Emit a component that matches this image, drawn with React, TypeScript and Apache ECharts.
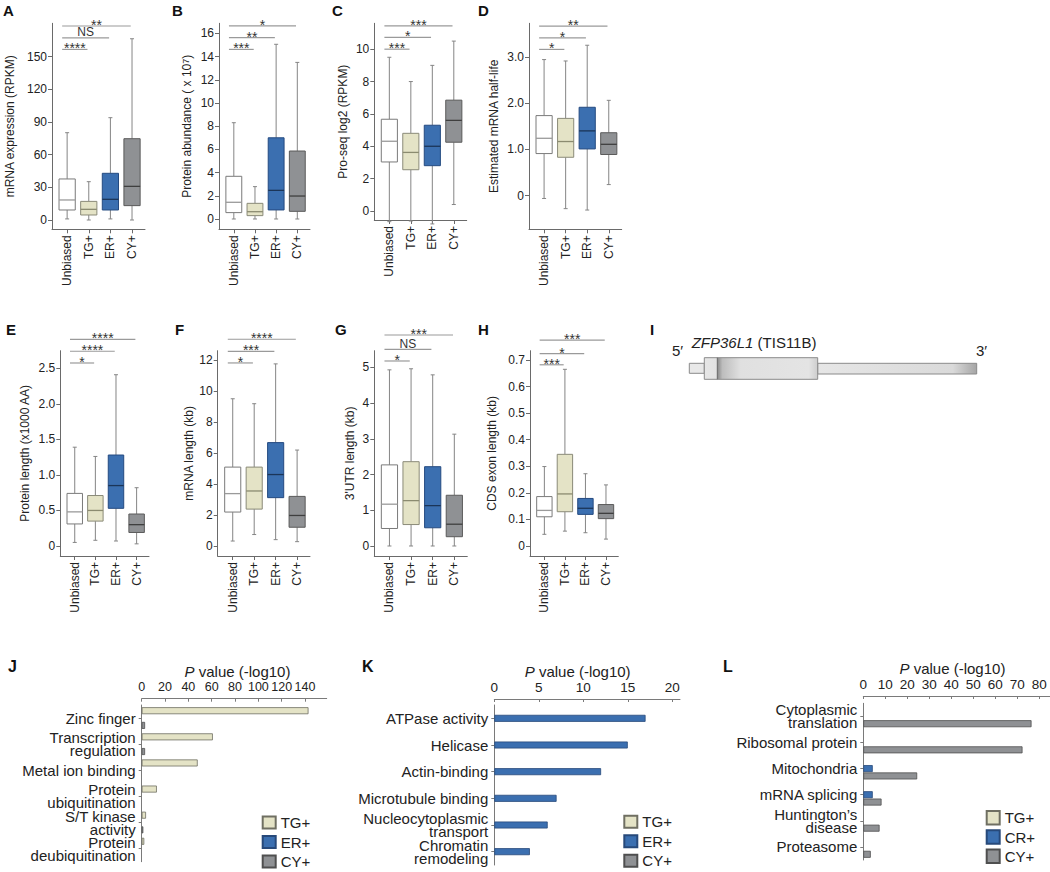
import React, { useEffect, useRef } from "react";
import * as echarts from "echarts";

const FONT = '"Liberation Sans", Arial, Helvetica, sans-serif';
const TEXT = "#222";
const AXIS = "#6a6a6a";

const boxCategories = ["Unbiased", "TG+", "ER+", "CY+"];

// [min, Q1, median, Q3, max] for Unbiased, TG+, ER+, CY+
const mrnaExpression = [[1, 9.2, 18.4, 37.7, 80.2], [0, 4.6, 9.8, 17.1, 35.2], [1, 9.2, 19, 42.9, 94], [0, 13.2, 30.9, 74.7, 166.5]];
const proteinAbundance = [[0, 0.55, 1.44, 3.68, 8.3], [0, 0.29, 0.63, 1.35, 2.79], [0, 0.78, 2.47, 7.0, 15.06], [0, 0.66, 1.98, 5.86, 13.5]];
const proSeq = [[-0.66, 3.03, 4.31, 5.67, 9.5], [-0.62, 2.55, 3.62, 4.8, 8.0], [-0.8, 2.8, 4.0, 5.3, 9.0], [0.4, 4.25, 5.6, 6.85, 10.5]];
const halfLife = [[-0.06, 0.91, 1.24, 1.73, 2.94], [-0.28, 0.83, 1.17, 1.67, 2.91], [-0.31, 1.01, 1.4, 1.91, 3.25], [0.24, 0.89, 1.11, 1.36, 2.06]];
const proteinLength = [[0.05, 0.31, 0.48, 0.74, 1.39], [0.08, 0.35, 0.5, 0.71, 1.26], [0.07, 0.53, 0.85, 1.28, 2.41], [0.03, 0.19, 0.3, 0.45, 0.82]];
const mrnaLength = [[0.32, 2.19, 3.38, 5.09, 9.5], [0.74, 2.38, 3.55, 5.09, 9.18], [0.41, 3.12, 4.61, 6.67, 11.75], [0.28, 1.21, 1.97, 3.2, 6.19]];
const utrLength = [[0, 0.49, 1.17, 2.27, 4.93], [0, 0.6, 1.27, 2.36, 4.96], [0, 0.51, 1.13, 2.22, 4.79], [0, 0.26, 0.61, 1.42, 3.13]];
const cdsExonLength = [[0.044, 0.11, 0.134, 0.186, 0.299], [0.056, 0.129, 0.196, 0.345, 0.665], [0.05, 0.119, 0.142, 0.179, 0.272], [0.026, 0.103, 0.123, 0.156, 0.23]];

// significance brackets: [end group index, level, label] (all start at Unbiased)
const sigA: [number, number, string][] = [[1, 156.7, "****"], [2, 167.4, "NS"], [3, 178.2, "**"]];
const sigB: [number, number, string][] = [[1, 14.62, "***"], [2, 15.63, "**"], [3, 16.64, "*"]];
const sigC: [number, number, string][] = [[1, 10.0, "***"], [2, 10.73, "*"], [3, 11.44, "***"]];
const sigD: [number, number, string][] = [[1, 3.16, "*"], [2, 3.41, "*"], [3, 3.665, "**"]];
const sigE: [number, number, string][] = [[1, 2.575, "*"], [2, 2.74, "****"], [3, 2.908, "****"]];
const sigF: [number, number, string][] = [[1, 11.81, "*"], [2, 12.56, "***"], [3, 13.34, "****"]];
const sigG: [number, number, string][] = [[1, 5.178, "*"], [2, 5.505, "NS"], [3, 5.905, "***"]];
const sigH: [number, number, string][] = [[1, 0.682, "***"], [2, 0.724, "*"], [3, 0.775, "***"]];

// tick values and labels
const mrnaExpressionTicks = [0, 30, 60, 90, 120, 150];
const proteinAbundanceTicks = [0, 2, 4, 6, 8, 10, 12, 14, 16];
const proSeqTicks = [0, 2, 4, 6, 8, 10];
const halfLifeTicks = [0, 1, 2, 3];
const halfLifeTickLabels = ["0", "1.0", "2.0", "3.0"];
const proteinLengthTicks = [0, 0.5, 1, 1.5, 2, 2.5];
const proteinLengthTickLabels = ["0", "0.5", "1.0", "1.5", "2.0", "2.5"];
const mrnaLengthTicks = [0, 2, 4, 6, 8, 10, 12];
const utrTicks = [0, 1, 2, 3, 4, 5];
const cdsTicks = [0, 0.1, 0.2, 0.3, 0.4, 0.5, 0.6, 0.7];
const cdsTickLabels = ["0", "0.1", "0.2", "0.3", "0.4", "0.5", "0.6", "0.7"];

// enrichment bars
const jCategories = ["Zinc finger", "Transcription\nregulation", "Metal ion binding", "Protein\nubiquitination", "S/T kinase\nactivity", "Protein\ndeubiquitination"];
const jTG = [143, 61, 48, 13, 3.7, 2.2];
const jER = [null, null, null, null, null, null];
const jCY = [2.9, 2.9, null, null, 1.4, null];
const jTicks = [0, 20, 40, 60, 80, 100, 120, 140];

const kCategories = ["ATPase activity", "Helicase", "Actin-binding", "Microtubule binding", "Nucleocytoplasmic\ntransport", "Chromatin\nremodeling"];
const kER = [17, 15, 12, 7, 6, 4];
const kTicks = [0, 5, 10, 15, 20];

const lCategories = ["Cytoplasmic\ntranslation", "Ribosomal protein", "Mitochondria", "mRNA splicing", "Huntington\u2019s\ndisease", "Proteasome"];
const lTG = [null, null, null, null, null, null];
const lCR = [null, null, 4.3, 4.3, null, null];
const lCY = [76.5, 72.4, 24.5, 8.3, 7.4, 3.4];
const lTicks = [0, 10, 20, 30, 40, 50, 60, 70, 80];

const boxFill = ["#ffffff", "#e4e3c6", "#3b6fb0", "#8f9194"];
const boxStroke = ["#7a7a7a", "#8a8a78", "#244a80", "#5a5a5a"];
const medianColor = ["#9a9a9a", "#8b8b70", "#1b3558", "#3f3f3f"];
const WHISKER = "#858585";

const TG_STYLE = { color: "#e4e3c6", borderColor: "#6f6f62", borderWidth: 0.8 };
const ER_STYLE = { color: "#3b6fb0", borderColor: "#27497a", borderWidth: 0.8 };
const CY_STYLE = { color: "#8f9194", borderColor: "#4f4f4f", borderWidth: 0.8 };

type BoxPanel = {
  data: number[][];
  sig: [number, number, string][];
  ticks: number[];
  labels?: string[];
  title: string;
  rich?: any;
  grid: [number, number, number, number];
  range: [number, number];
  nameGap: number;
};

const boxPanels: BoxPanel[] = [
  { data: mrnaExpression, sig: sigA, ticks: mrnaExpressionTicks, title: "mRNA expression (RPKM)", grid: [52, 23.3, 93, 206], range: [-8.54, 180.7], nameGap: 36 },
  { data: proteinAbundance, sig: sigB, ticks: proteinAbundanceTicks, title: "Protein abundance ( x 10{sup|7})", rich: { sup: { fontSize: 9, verticalAlign: "top", fontFamily: FONT, color: TEXT } }, grid: [219, 23.3, 91, 206], range: [-0.888, 16.87], nameGap: 26 },
  { data: proSeq, sig: sigC, ticks: proSeqTicks, title: "Pro-seq log2 (RPKM)", grid: [374.3, 23.3, 92.4, 196.7], range: [-0.557, 11.6], nameGap: 25 },
  { data: halfLife, sig: sigD, ticks: halfLifeTicks, labels: halfLifeTickLabels, title: "Estimated mRNA half-life", grid: [529, 23.3, 92.7, 206], range: [-0.726, 3.724], nameGap: 29.5 },
  { data: proteinLength, sig: sigE, ticks: proteinLengthTicks, labels: proteinLengthTickLabels, title: "Protein length (x1000 AA)", grid: [60.3, 350.7, 88.7, 205.3], range: [-0.141, 2.748], nameGap: 29 },
  { data: mrnaLength, sig: sigF, ticks: mrnaLengthTicks, title: "mRNA length (kb)", grid: [217.7, 350.7, 92.3, 205.3], range: [-0.645, 12.6], nameGap: 23 },
  { data: utrLength, sig: sigG, ticks: utrTicks, title: "3'UTR length (kb)", grid: [374.3, 350.7, 93, 205.3], range: [-0.28, 5.466], nameGap: 18 },
  { data: cdsExonLength, sig: sigH, ticks: cdsTicks, labels: cdsTickLabels, title: "CDS exon length (kb)", grid: [530, 350.7, 88.3, 205.3], range: [-0.0376, 0.735], nameGap: 32.5 },
];

function renderBox(params: any, api: any) {
  const i = api.value(0);
  const pMin = api.coord([i, api.value(1)]);
  const pQ1 = api.coord([i, api.value(2)]);
  const pMed = api.coord([i, api.value(3)]);
  const pQ3 = api.coord([i, api.value(4)]);
  const pMax = api.coord([i, api.value(5)]);
  const w = api.size([1, 0])[0] * 0.75;
  const x = pMed[0];
  const ws = { stroke: WHISKER, lineWidth: 1 };
  return {
    type: "group",
    children: [
      { type: "line", shape: { x1: x, y1: pMax[1], x2: x, y2: pQ3[1] }, style: ws },
      { type: "line", shape: { x1: x, y1: pQ1[1], x2: x, y2: pMin[1] }, style: ws },
      { type: "line", shape: { x1: x - 2, y1: pMax[1], x2: x + 2, y2: pMax[1] }, style: ws },
      { type: "line", shape: { x1: x - 2, y1: pMin[1], x2: x + 2, y2: pMin[1] }, style: ws },
      { type: "rect", shape: { x: x - w / 2, y: pQ3[1], width: w, height: pQ1[1] - pQ3[1] }, style: { fill: boxFill[i], stroke: boxStroke[i], lineWidth: 1 } },
      { type: "line", shape: { x1: x - w / 2, y1: pMed[1], x2: x + w / 2, y2: pMed[1] }, style: { stroke: medianColor[i], lineWidth: 1.3 } },
    ],
  };
}

function makeBracket(labels: string[]) {
  return (params: any, api: any) => {
    const band = api.size([1, 0])[0];
    const y = api.value(2);
    const a = api.coord([api.value(0), y]);
    const b = api.coord([api.value(1), y]);
    const x1 = a[0] - 0.23 * band;
    const x2 = b[0] - 0.06 * band;
    const label = labels[params.dataIndex];
    const ns = label === "NS";
    return {
      type: "group",
      children: [
        { type: "line", shape: { x1, y1: a[1], x2, y2: a[1] }, style: { stroke: "#9a9a9a", lineWidth: 1.2 } },
        {
          type: "text",
          x: (x1 + x2) / 2,
          y: a[1] - (ns ? 5.5 : 1),
          style: { text: label, fontSize: ns ? 12 : 14, fontFamily: FONT, fill: "#333", align: "center", verticalAlign: "middle" },
        },
      ],
    };
  };
}

function buildOption() {
  const grid: any[] = [];
  const xAxis: any[] = [];
  const yAxis: any[] = [];
  const series: any[] = [];
  const lineStyle = { color: AXIS, width: 1 };

  boxPanels.forEach((p, k) => {
    grid.push({ left: p.grid[0], top: p.grid[1], width: p.grid[2], height: p.grid[3] });
    xAxis.push({
      gridIndex: k, type: "value", min: -0.7, max: 3.6,
      axisLine: { show: true, onZero: false, lineStyle },
      axisTick: { show: true, length: 4, customValues: [0, 1, 2, 3], lineStyle },
      axisLabel: { customValues: [0, 1, 2, 3], rotate: 90, margin: 6, fontSize: 12, color: TEXT, fontFamily: FONT, formatter: (v: number) => boxCategories[Math.round(v)] },
      splitLine: { show: false },
    });
    yAxis.push({
      gridIndex: k, type: "value", min: p.range[0], max: p.range[1],
      axisLine: { show: true, onZero: false, lineStyle },
      axisTick: { show: true, length: 4, customValues: p.ticks, lineStyle },
      axisLabel: {
        customValues: p.ticks, margin: 5, fontSize: 12, color: TEXT, fontFamily: FONT,
        formatter: (v: number) => {
          if (!p.labels) return String(v);
          const idx = p.ticks.findIndex((t) => Math.abs(t - v) < 1e-9);
          return idx >= 0 ? p.labels[idx] : String(v);
        },
      },
      splitLine: { show: false },
      name: p.title, nameLocation: "middle", nameGap: p.nameGap,
      nameTextStyle: { fontSize: 12, color: TEXT, fontFamily: FONT, rich: p.rich || {} },
    });
    series.push({
      type: "custom", xAxisIndex: k, yAxisIndex: k, silent: true, clip: false,
      data: p.data.map((d, i) => [i, ...d]),
      encode: { x: 0, y: [1, 2, 3, 4, 5] },
      renderItem: renderBox,
    });
    series.push({
      type: "custom", xAxisIndex: k, yAxisIndex: k, silent: true, clip: false,
      data: p.sig.map((s) => [0, s[0], s[1]]),
      encode: { x: [0, 1], y: 2 },
      renderItem: makeBracket(p.sig.map((s) => s[2])),
    });
  });

  const barPanels = [
    { cats: jCategories, grid: [141.7, 705, 185, 156.7], max: 158.6, ticks: jTicks, tickFont: 12.5, offset: 6.3, nameGap: 20, namePad: [0, 0, 0, 6.6], series: [["TG+", jTG, TG_STYLE], ["ER+", jER, ER_STYLE], ["CY+", jCY, CY_STYLE]] },
    { cats: kCategories, grid: [494.3, 705, 185.7, 160], max: 20.87, ticks: kTicks, tickFont: 13.5, offset: 6, nameGap: 19, namePad: [0, 19, 0, 0], series: [["ER+", kER, ER_STYLE]] },
    { cats: lCategories, grid: [863.3, 703.3, 186.7, 156.7], max: 84.9, ticks: lTicks, tickFont: 13.5, offset: 7.3, nameGap: 19, namePad: [0, 8.4, 0, 0], series: [["TG+", lTG, TG_STYLE], ["CR+", lCR, ER_STYLE], ["CY+", lCY, CY_STYLE]] },
  ];
  const barAxisLine = { color: "#7a7a7a", width: 1 };
  barPanels.forEach((b: any, j) => {
    const k = boxPanels.length + j;
    grid.push({ left: b.grid[0], top: b.grid[1], width: b.grid[2], height: b.grid[3] });
    xAxis.push({
      gridIndex: k, type: "value", position: "top", offset: b.offset, min: 0, max: b.max,
      axisLine: { show: true, onZero: false, lineStyle: barAxisLine },
      axisTick: { show: true, inside: true, length: 3, customValues: b.ticks, lineStyle: barAxisLine },
      axisLabel: { customValues: b.ticks, margin: 5, fontSize: b.tickFont, color: TEXT, fontFamily: FONT },
      splitLine: { show: false },
      name: "{i|P} value (-log10)", nameLocation: "middle", nameGap: b.nameGap,
      nameTextStyle: { fontSize: 15, color: TEXT, fontFamily: FONT, padding: b.namePad, rich: { i: { fontStyle: "italic", fontSize: 15, color: TEXT, fontFamily: FONT } } },
    });
    yAxis.push({
      gridIndex: k, type: "category", data: b.cats, inverse: true,
      axisLine: { show: true, onZero: false, lineStyle: barAxisLine },
      axisTick: { show: true, alignWithLabel: true, interval: 0, length: 3, lineStyle: barAxisLine },
      axisLabel: { interval: 0, fontSize: 15, lineHeight: 13, color: TEXT, fontFamily: FONT, margin: 6 },
      splitLine: { show: false },
    });
    b.series.forEach((s: any) => {
      series.push({
        type: "bar", name: s[0], xAxisIndex: k, yAxisIndex: k, data: s[1],
        barWidth: 7, barGap: "5%", itemStyle: s[2], silent: true,
      });
    });
  });

  const legendBase = {
    orient: "vertical", itemWidth: 13, itemHeight: 12, itemGap: 4.5, icon: "rect", selectedMode: false,
    padding: 0, height: 80, width: 60,
    textStyle: { fontSize: 15, color: TEXT, fontFamily: FONT, lineHeight: 12 },
  };
  const legend = [
    { ...legendBase, data: ["TG+", "ER+", "CY+"], left: 261.7, top: 815 },
    { ...legendBase, data: ["TG+", "ER+", "CY+"], left: 623.3, top: 814.3 },
    { ...legendBase, data: ["TG+", "CR+", "CY+"], left: 985.7, top: 810, itemHeight: 13.5, itemGap: 3.8 },
  ];

  const letters: [string, number, number, number][] = [
    ["A", 3, 10, 15], ["B", 172, 10, 15], ["C", 332, 10, 15], ["D", 478, 10, 15],
    ["E", 6, 329, 15], ["F", 175, 329, 15], ["G", 335, 329, 15], ["H", 478, 329, 15], ["I", 650, 329, 15],
    ["J", 8, 666.5, 16], ["K", 362, 666.5, 16], ["L", 723, 666.5, 16],
  ];
  const graphic: any[] = letters.map(([t, x, y, fs]) => ({
    type: "text", x, y,
    style: { text: t, fontSize: fs, fontWeight: "bold", fontFamily: FONT, fill: "#111", verticalAlign: "middle", align: "left" },
  }));

  // Panel I: gene diagram
  graphic.push(
    { type: "text", x: 672, y: 350, style: { text: "5\u2032", fontSize: 15, fontFamily: FONT, fill: TEXT, verticalAlign: "middle" } },
    { type: "text", x: 976, y: 350, style: { text: "3\u2032", fontSize: 15, fontFamily: FONT, fill: TEXT, verticalAlign: "middle" } },
    {
      type: "text", x: 691.7, y: 342.7,
      style: { text: "{i|ZFP36L1} (TIS11B)", fontSize: 15, fontFamily: FONT, fill: TEXT, verticalAlign: "middle", rich: { i: { fontStyle: "italic", fontSize: 15, fontFamily: FONT, fill: TEXT } } },
    },
    {
      type: "rect", shape: { x: 817.7, y: 363.3, width: 159, height: 10.7 },
      style: { fill: { type: "linear", x: 0, y: 0, x2: 1, y2: 0, colorStops: [{ offset: 0, color: "#e6e6e6" }, { offset: 0.85, color: "#dadada" }, { offset: 1, color: "#a5a5a5" }] }, stroke: "#8a8a8a", lineWidth: 1 },
    },
    {
      type: "rect", shape: { x: 689.3, y: 363.3, width: 15, height: 10 },
      style: { fill: "#e8e8e8", stroke: "#8a8a8a", lineWidth: 1 },
    },
    {
      type: "rect", shape: { x: 704.3, y: 357.7, width: 113.4, height: 21.6 },
      style: {
        fill: { type: "linear", x: 0, y: 0, x2: 1, y2: 0, colorStops: [
          { offset: 0, color: "#e6e6e6" }, { offset: 0.112, color: "#e2e2e2" }, { offset: 0.118, color: "#8c8c8c" },
          { offset: 0.16, color: "#bdbdbd" }, { offset: 0.32, color: "#e0e0e0" }, { offset: 0.92, color: "#e4e4e4" }, { offset: 1, color: "#cdcdcd" },
        ] },
        stroke: "#8a8a8a", lineWidth: 1,
      },
    },
    { type: "line", shape: { x1: 717.3, y1: 357.7, x2: 717.3, y2: 379.3 }, style: { stroke: "#6a6a6a", lineWidth: 1 } },
  );

  return {
    animation: false,
    backgroundColor: "#ffffff",
    textStyle: { fontFamily: FONT },
    grid, xAxis, yAxis, series, legend, graphic,
  };
}

export default function App() {
  const ref = useRef<HTMLDivElement>(null);
  useEffect(() => {
    if (!ref.current) return;
    const chart = echarts.init(ref.current, undefined, { renderer: "svg" });
    chart.setOption(buildOption() as any);
    return () => chart.dispose();
  }, []);
  return <div ref={ref} style={{ position: "absolute", left: 0, top: 0, width: 1050, height: 872, background: "#fff" }} />;
}
